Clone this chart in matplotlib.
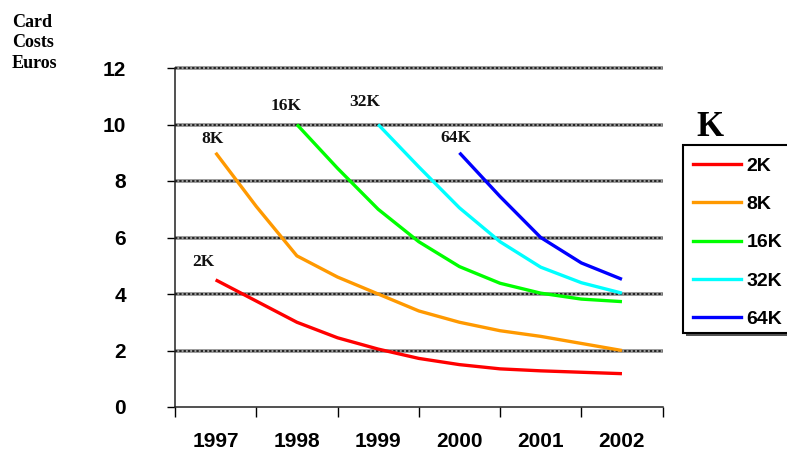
import numpy as np
import matplotlib
matplotlib.use("Agg")
import matplotlib.pyplot as plt
from matplotlib.lines import Line2D
from matplotlib.patches import Rectangle

# ---- data -------------------------------------------------------------
years = [1997, 1998, 1999, 2000, 2001, 2002]
x_pos = [1997.0, 1997.5, 1998.0, 1998.5, 1999.0, 1999.5,
         2000.0, 2000.5, 2001.0, 2001.5, 2002.0]
nan = np.nan
cost_2k = [4.5, 3.75, 3.0, 2.45, 2.05, 1.72, 1.5, 1.35, 1.28, 1.23, 1.18]
cost_8k = [9.0, 7.1, 5.35, 4.6, 4.0, 3.4, 3.0, 2.7, 2.5, 2.25, 2.0]
cost_16k = [nan, nan, 10.0, 8.45, 7.0, 5.85, 4.97, 4.38, 4.03, 3.82, 3.73]
cost_32k = [nan, nan, nan, nan, 10.0, 8.5, 7.05, 5.85, 4.95, 4.4, 4.03]
cost_64k = [nan, nan, nan, nan, nan, nan, 9.0, 7.45, 6.0, 5.1, 4.52]
series_names = ["2K", "8K", "16K", "32K", "64K"]
series_colors = ["#ff0000", "#ff9900", "#00ff00", "#00ffff", "#0000ff"]
y_ticks = [0, 2, 4, 6, 8, 10, 12]

series = [cost_2k, cost_8k, cost_16k, cost_32k, cost_64k]
# label offsets (pixels) from each curve's first point
label_offsets = [(-12, 18), (-3, 14), (-11, 19), (-13, 23), (-4, 15)]

W, H = 787, 458
fig = plt.figure(figsize=(W / 100, H / 100), dpi=100)
ax = fig.add_axes([175 / W, 1 - 407 / H, (662.6 - 175) / W, (407 - 68) / H])

sans = ["Liberation Sans", "DejaVu Sans"]
serif = ["Liberation Serif", "DejaVu Serif"]

# dotted grey gridlines
grid_levels = y_ticks[1:]
ax.hlines(grid_levels, 1996.5, 2002.5, colors="#9a9a9a", linewidth=2.8,
          zorder=1, clip_on=False)
ax.hlines(grid_levels, 1996.5, 2002.5, colors="#222222", linewidth=1.4,
          linestyles=(0, (1.2, 1.0)), zorder=1.1, clip_on=False)

for vals, name, col, off in zip(series, series_names, series_colors, label_offsets):
    ax.plot(x_pos, vals, color=col, linewidth=2.4, solid_capstyle="butt", zorder=3)
    arr = np.asarray(vals, dtype=float)
    i0 = int(np.argmax(~np.isnan(arr)))
    ax.annotate(name, (x_pos[i0], arr[i0]), xytext=off, textcoords="offset pixels",
                ha="center", va="center", fontsize=12.5, fontweight="bold",
                family=serif, color="#111111")

ax.set_xlim(1996.5, 2002.5)
ax.set_ylim(0, 12)
ax.set_yticks(y_ticks)
ax.set_yticklabels([str(v) for v in y_ticks])
ax.tick_params(axis="y", direction="out", length=5.8, width=1, pad=29.5,
               labelsize=15)
for t in ax.get_yticklabels():
    t.set_fontweight("bold")
    t.set_family(sans)

# year boundaries as major ticks, year labels centred on minor ticks
ax.set_xticks([y - 0.5 for y in years] + [years[-1] + 0.5])
ax.set_xticklabels([])
ax.set_xticks(years, minor=True)
ax.set_xticklabels([str(y) for y in years], minor=True)
ax.tick_params(axis="x", which="major", direction="out", length=7.2, width=1)
ax.tick_params(axis="x", which="minor", length=0, pad=18, labelsize=15)
for t in ax.get_xticklabels(minor=True):
    t.set_fontweight("bold")
    t.set_family(sans)

for s in ("top", "right"):
    ax.spines[s].set_visible(False)
for s in ("left", "bottom"):
    ax.spines[s].set_linewidth(1.1)
    ax.spines[s].set_color("#222222")

# axis caption at the top left
for txt, yb in (("Card", 27), ("Costs", 47), ("Euros", 68)):
    fig.text(12 / W, 1 - yb / H, txt, fontsize=13, fontweight="bold",
             family=serif, ha="left", va="baseline")

# legend: frame with shadow, title above
fig.patches.append(Rectangle((686 / W, 1 - 336 / H), 120 / W, 188 / H,
                             transform=fig.transFigure, facecolor="#555555",
                             edgecolor="none", zorder=0))
fig.patches.append(Rectangle((683 / W, 1 - 333 / H), 120 / W, 188 / H,
                             transform=fig.transFigure, facecolor="white",
                             edgecolor="black", linewidth=1.5, zorder=0.5))
fig.text(696 / W, 1 - 136 / H, "K", fontsize=25, fontweight="bold",
         family=serif, ha="left", va="baseline")
handles = [Line2D([], [], color=c, linewidth=2.4) for c in series_colors]
leg = fig.legend(handles, series_names, loc="upper left",
                 bbox_to_anchor=(693 / W, 1 - 157 / H), frameon=False,
                 handlelength=2.45, handletextpad=0.3, labelspacing=1.07,
                 borderaxespad=0, borderpad=0.0,
                 prop={"family": sans, "weight": "bold", "size": 14})

fig.savefig("out.png", dpi=100)
